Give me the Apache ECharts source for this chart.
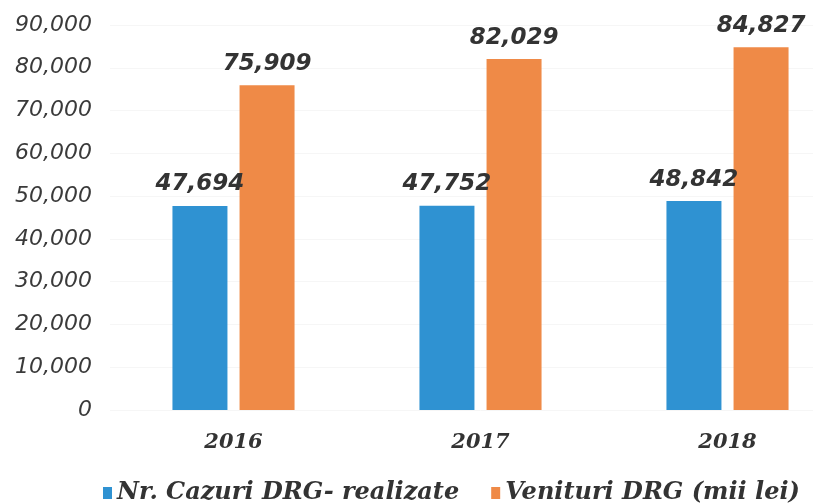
<!DOCTYPE html>
<html>
<head>
<meta charset="utf-8">
<script src="https://cdn.jsdelivr.net/npm/echarts@6/dist/echarts.min.js"></script>
<style>
  html, body { margin: 0; padding: 0; background: #fff; overflow: hidden; }
  /* the category band runs past the right edge in the original, so the
     canvas is wider than the window and simply gets cut off */
  #chart { width: 860px; height: 504px; }
</style>
</head>
<body>
<div id="chart"></div>
<script>
// Values
const years = ['2016', '2017', '2018'];
const cazuri = [47694, 47752, 48842];
const venituri = [75909, 82029, 84827];
const seriesNames = ['Nr. Cazuri DRG- realizate', 'Venituri DRG (mii lei)'];

const COLORS = {
    blue: '#2f92d2',
    orange: '#ef8a47'
};

const fmt = v => v.toLocaleString('en-US');

const labelStyle = {
    show: true,
    position: 'top',
    distance: 10,
    fontFamily: 'DejaVu Sans',
    fontStyle: 'italic',
    fontWeight: 'bold',
    fontSize: 23,
    color: '#333',
    formatter: p => fmt(p.value)
};

const chart = echarts.init(document.getElementById('chart'));
chart.setOption({
    animation: false,
    grid: { left: 110, right: 9, top: 25, bottom: 94 },
    legend: {
        data: seriesNames,
        top: 476,
        left: 98,
        itemWidth: 9,
        itemHeight: 12,
        itemGap: 32,
        icon: 'rect',
        textStyle: {
            fontFamily: 'DejaVu Serif',
            fontStyle: 'italic',
            fontWeight: 'bold',
            fontSize: 24,
            color: '#333'
        }
    },
    xAxis: {
        type: 'category',
        data: years,
        axisLine: { show: false },
        axisTick: { show: false },
        axisLabel: {
            margin: 22,
            fontFamily: 'DejaVu Serif',
            fontStyle: 'italic',
            fontWeight: 'bold',
            fontSize: 21,
            color: '#333'
        }
    },
    yAxis: {
        type: 'value',
        min: 0,
        max: 90000,
        interval: 10000,
        axisLine: { show: false },
        axisTick: { show: false },
        splitLine: { lineStyle: { color: '#f6f6f6' } },
        axisLabel: {
            margin: 18,
            fontFamily: 'DejaVu Sans',
            fontStyle: 'italic',
            fontSize: 22,
            color: '#3a3a3a',
            formatter: v => fmt(v)
        }
    },
    series: [
        {
            name: seriesNames[0],
            type: 'bar',
            data: cazuri,
            barWidth: 55,
            barGap: '22%',
            itemStyle: { color: COLORS.blue },
            label: labelStyle
        },
        {
            name: seriesNames[1],
            type: 'bar',
            data: venituri,
            barWidth: 55,
            itemStyle: { color: COLORS.orange },
            label: labelStyle
        }
    ]
});
</script>
</body>
</html>
